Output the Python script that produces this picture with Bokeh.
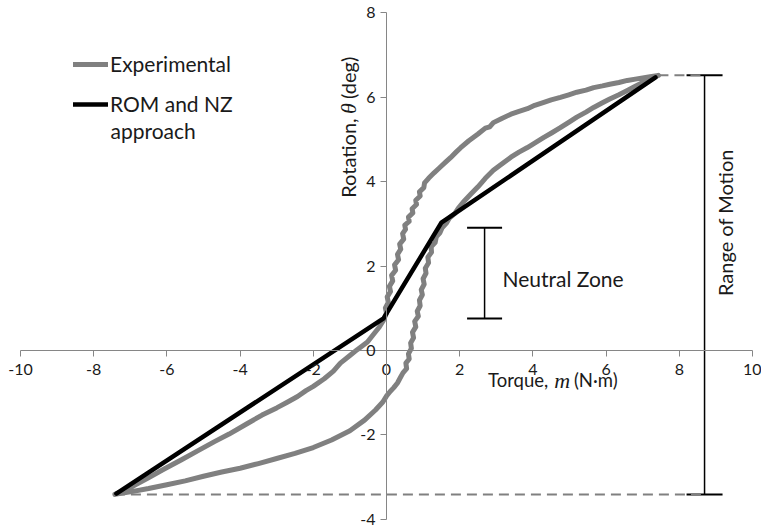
import math

from bokeh.plotting import figure
from bokeh.models import (ColumnDataSource, Label, Legend, LegendItem, Whisker,
                          TeeHead, FixedTicker)
from bokeh.embed import file_html
from bokeh.resources import INLINE

# ---- data -----------------------------------------------------------------
# Experimental moment-rotation loop, loading branch (torque in N·m, rotation in deg)
load_torque = [-7.42, -7.0, -6.5, -6.0, -5.5, -5.0, -4.5, -4.0, -3.5, -3.0, -2.5, -2.0,
               -1.5, -1.0, -0.6, -0.3, -0.1, 0.0, 0.1, 0.2, 0.3, 0.38, 0.45, 0.55, 0.53,
               0.62, 0.60, 0.68, 0.66, 0.74, 0.71, 0.80, 0.77, 0.87, 0.84, 0.92, 0.90,
               0.98, 0.95, 1.03, 1.00, 1.08, 1.06, 1.15, 1.13, 1.23, 1.22, 1.33, 1.36,
               1.46, 1.52, 1.64, 1.72, 1.87, 1.96, 2.10, 2.30, 2.50, 2.70, 2.92, 3.15,
               3.40, 3.62, 3.85, 4.08, 4.30, 4.52, 4.75, 5.00, 5.20, 5.45, 5.66, 5.90,
               6.10, 6.35, 6.58, 6.80, 7.00, 7.20, 7.43]
load_rot = [-3.41, -3.35, -3.27, -3.18, -3.09, -2.98, -2.88, -2.79, -2.68, -2.56, -2.44,
            -2.30, -2.12, -1.90, -1.65, -1.41, -1.22, -1.08, -0.97, -0.88, -0.77, -0.64,
            -0.53, -0.43, -0.30, -0.20, -0.08, 0.05, 0.18, 0.30, 0.43, 0.56, 0.69, 0.81,
            0.93, 1.06, 1.19, 1.32, 1.44, 1.57, 1.70, 1.83, 1.95, 2.08, 2.21, 2.33, 2.46,
            2.56, 2.69, 2.79, 2.91, 3.02, 3.14, 3.25, 3.37, 3.52, 3.70, 3.88, 4.08, 4.27,
            4.42, 4.58, 4.70, 4.81, 4.93, 5.05, 5.16, 5.28, 5.42, 5.53, 5.65, 5.76, 5.87,
            5.96, 6.06, 6.16, 6.26, 6.35, 6.44, 6.52]

# Experimental loop, unloading branch
unload_torque = [7.43, 7.20, 7.00, 6.80, 6.58, 6.35, 6.10, 5.90, 5.66, 5.45, 5.20, 4.98,
                 4.75, 4.50, 4.30, 4.05, 3.85, 3.60, 3.40, 3.15, 2.92, 2.82, 2.70, 2.50,
                 2.25, 2.02, 1.90, 1.75, 1.60, 1.45, 1.30, 1.15, 1.04, 1.02, 0.90, 0.92,
                 0.80, 0.82, 0.70, 0.72, 0.60, 0.62, 0.50, 0.52, 0.44, 0.47, 0.36, 0.39,
                 0.30, 0.33, 0.22, 0.25, 0.14, 0.17, 0.08, 0.11, 0.02, 0.05, -0.03, 0.00,
                 -0.08, -0.20, -0.32, -0.52, -0.80, -1.00, -1.26, -1.45, -1.70, -2.00,
                 -2.20, -2.43, -2.70, -3.00, -3.40, -3.80, -4.30, -4.70, -5.16, -5.60,
                 -6.10, -6.53, -7.00, -7.42]
unload_rot = [6.52, 6.49, 6.46, 6.43, 6.40, 6.35, 6.31, 6.27, 6.23, 6.17, 6.12, 6.06,
              6.00, 5.94, 5.88, 5.81, 5.73, 5.66, 5.60, 5.50, 5.40, 5.30, 5.27, 5.13,
              4.97, 4.80, 4.70, 4.57, 4.45, 4.33, 4.21, 4.08, 3.97, 3.86, 3.76, 3.66,
              3.56, 3.46, 3.36, 3.26, 3.16, 3.06, 2.97, 2.87, 2.77, 2.64, 2.52, 2.40,
              2.28, 2.15, 2.03, 1.90, 1.78, 1.65, 1.52, 1.40, 1.27, 1.14, 1.01, 0.89,
              0.72, 0.55, 0.42, 0.20, 0.02, -0.12, -0.30, -0.49, -0.67, -0.85, -0.95,
              -1.09, -1.22, -1.36, -1.53, -1.73, -1.98, -2.16, -2.38, -2.59, -2.82,
              -3.03, -3.25, -3.41]

# Piecewise-linear ROM and NZ approximation
model_torque = [-7.38, -0.08, 1.50, 7.35]
model_rot = [-3.39, 0.76, 3.03, 6.47]

# Range of motion and neutral zone extents
rom_min = -3.41
rom_max = 6.52
rom_torque_min = -7.42
rom_torque_max = 7.43
rom_bar_x = 8.69
nz_bar_x = 2.68
nz_lower = 0.76
nz_upper = 2.91

x_ticks = [-10, -8, -6, -4, -2, 0, 2, 4, 6, 8, 10]
y_ticks = [-4, -2, 0, 2, 4, 6, 8]

FONT = "Lato"
GRAY = "#808080"
AXIS_GRAY = "#868686"
TEXT = "#1a1a1a"

# ---- figure ---------------------------------------------------------------
# the frame fills the canvas; the axes are bounded to the tick range so the
# outer tick labels have room inside the frame
p = figure(width=761, height=529, x_range=(-10.546, 10.246), y_range=(-4.242, 8.294),
           output_backend="svg", toolbar_location=None,
           min_border_left=0, min_border_right=0, min_border_top=0,
           min_border_bottom=0)
p.grid.visible = False
p.outline_line_color = None
p.background_fill_color = "white"
p.border_fill_color = "white"

# axes crossing at the origin
for ax in (p.xaxis[0], p.yaxis[0]):
    ax.fixed_location = 0
    ax.axis_line_color = AXIS_GRAY
    ax.axis_line_width = 1
    ax.major_tick_line_color = AXIS_GRAY
    ax.major_tick_in = 0
    ax.major_tick_out = 6
    ax.minor_tick_line_color = None
    ax.major_label_text_font = FONT
    ax.major_label_text_font_size = "16px"
    ax.major_label_text_color = TEXT
p.xaxis.ticker = FixedTicker(ticks=x_ticks)
p.yaxis.ticker = FixedTicker(ticks=y_ticks)
# plain hyphen-minus tick labels
p.xaxis.major_label_overrides = {t: str(t) for t in x_ticks}
p.yaxis.major_label_overrides = {t: str(t) for t in y_ticks}
p.xaxis.bounds = (x_ticks[0], x_ticks[-1])
p.yaxis.bounds = (y_ticks[0], y_ticks[-1])
p.xaxis.major_label_standoff = 8
p.yaxis.major_label_standoff = 5

# dashed guides from the extremes to the range-of-motion bar
p.line([rom_torque_max, rom_bar_x], [rom_max, rom_max], line_color=GRAY,
       line_width=2, line_dash="10 6")
p.line([rom_torque_min, rom_bar_x], [rom_min, rom_min], line_color=GRAY,
       line_width=2, line_dash="10 6")

# experimental loop
exp_src = ColumnDataSource(dict(x=load_torque + unload_torque[1:],
                                y=load_rot + unload_rot[1:]))
r_exp = p.line("x", "y", source=exp_src, line_color=GRAY, line_width=5,
               line_join="round", line_cap="round")

# ROM / NZ model
r_model = p.line(model_torque, model_rot, line_color="black", line_width=4.5,
                 line_join="round", line_cap="round")

# range-of-motion and neutral-zone bars
bars = [(rom_bar_x, rom_min, rom_max, 36), (nz_bar_x, nz_lower, nz_upper, 35)]
for base, lower, upper, size in bars:
    src = ColumnDataSource(dict(base=[base], lower=[lower], upper=[upper]))
    p.add_layout(Whisker(base="base", lower="lower", upper="upper", source=src,
                         dimension="height", line_color="black", line_width=1.5,
                         upper_head=TeeHead(size=size, line_color="black", line_width=2),
                         lower_head=TeeHead(size=size, line_color="black", line_width=2)))

# annotations
p.add_layout(Label(x=3.17, y=1.71, text="Neutral Zone", text_font=FONT,
                   text_font_size="21px", text_color=TEXT, text_baseline="middle",
                   text_align="left"))
p.add_layout(Label(x=9.26, y=3.03, text="Range of Motion", text_font=FONT,
                   text_font_size="20px", text_color=TEXT, text_baseline="middle",
                   text_align="center", angle=math.pi / 2))

# x axis title: Torque, m (N·m)
p.add_layout(Label(x=4.42, y=-0.71, text="Torque,", text_font=FONT,
                   text_font_size="18.5px", text_color=TEXT, text_baseline="middle",
                   text_align="right"))
p.add_layout(Label(x=4.80, y=-0.71, text="m", text_font="Liberation Serif",
                   text_font_style="italic", text_font_size="22px", text_color=TEXT,
                   text_baseline="middle", text_align="center"))
p.add_layout(Label(x=5.12, y=-0.71, text="(N·m)", text_font=FONT,
                   text_font_size="18.5px", text_color=TEXT, text_baseline="middle",
                   text_align="left"))

# y axis title: Rotation, θ (deg)
p.add_layout(Label(x=-1.04, y=5.50, text="Rotation,", text_font=FONT,
                   text_font_size="20px", text_color=TEXT, text_baseline="middle",
                   text_align="right", angle=math.pi / 2))
p.add_layout(Label(x=-1.04, y=5.73, text="θ", text_font="Liberation Serif",
                   text_font_style="italic", text_font_size="22px", text_color=TEXT,
                   text_baseline="middle", text_align="center", angle=math.pi / 2))
p.add_layout(Label(x=-1.04, y=5.96, text="(deg)", text_font=FONT,
                   text_font_size="20px", text_color=TEXT, text_baseline="middle",
                   text_align="left", angle=math.pi / 2))

# legend (second entry wraps onto a continuation line)
legend = Legend(items=[LegendItem(label="Experimental", renderers=[r_exp]),
                       LegendItem(label="ROM and NZ", renderers=[r_model])],
                location=(73, 413), orientation="vertical",
                label_text_font=FONT, label_text_font_size="21px",
                label_text_color=TEXT, glyph_width=35, glyph_height=20,
                label_standoff=2, spacing=15, padding=0, margin=0,
                border_line_color=None, background_fill_alpha=0)
p.add_layout(legend, "center")
p.add_layout(Label(x=-7.54, y=5.21, text="approach", text_font=FONT,
                   text_font_size="21px", text_color=TEXT, text_baseline="middle",
                   text_align="left"))

open("out.html", "w").write(file_html(p, INLINE))
